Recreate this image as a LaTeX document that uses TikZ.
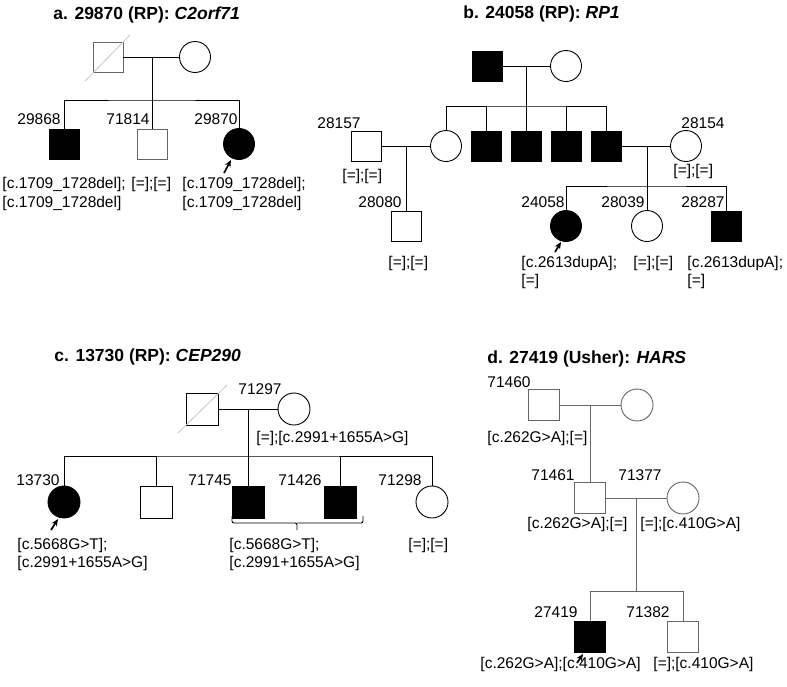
\documentclass[tikz,border=0pt]{standalone}
\usepackage{fontspec}
\setmainfont{Liberation Sans}
\usetikzlibrary{arrows.meta,calc}
\begin{document}
\begin{tikzpicture}[x=1pt,y=-1pt,
  every path/.style={line width=0.9pt},
  sq/.style={draw,rectangle,inner sep=0pt,minimum size=#1},
  sq/.default=30pt,
  ci/.style={draw,circle,inner sep=0pt,minimum size=#1},
  ci/.default=31pt,
  aff/.style={fill=black},
  lbl/.style={font=\fontsize{15.5}{18}\selectfont,inner sep=0pt,anchor=base east},
  lblw/.style={font=\fontsize{15.5}{18}\selectfont,inner sep=0pt,anchor=base west},
  gt/.style={font=\fontsize{15.5}{18}\selectfont,inner sep=0pt,anchor=base west},
  ttl/.style={font=\fontsize{17.5}{20}\selectfont\bfseries,inner sep=0pt,anchor=base west},
  prob/.style={line width=1.7pt,-{Stealth[length=7pt,width=6pt]}},
  slash/.style={draw=gray!45,line width=0.8pt},
  grayl/.style={draw=gray!80!black}
]
\useasboundingbox (0,0) rectangle (787,686);

% ---------------- Panel a ----------------
\node[ttl] (a_t) at (53,19) {a. 29870 (RP): \textit{C2orf71}};
\node[sq,grayl] (a_f) at (108,57) {};
\draw[slash] ($(a_f.center)+(-23,24)$) -- ($(a_f.center)+(22,-22)$);
\node[ci] (a_m) at (195,57) {};
\coordinate (a_j) at (152,57);
\coordinate (a_s) at (152,100);
\draw (a_f) -- (a_m);
\draw (a_j) -- (a_s);
\node[sq,aff] (a_c1) at (64,144) {};
\node[sq,grayl] (a_c2) at (152,144) {};
\node[ci,aff] (a_c3) at (239,144) {};
\draw (a_c1.north) |- (a_s) -| (a_c3.north);
\draw (a_s) -- (a_c2.north);
\node[lbl] (a_l1) at (61,124) {29868};
\node[lbl] (a_l2) at (150,124) {71814};
\node[lbl] (a_l3) at (238,124) {29870};
\node[gt] (a_g1) at (2,188) {[c.1709\_1728del];};
\node[gt] (a_g1b) at (2,207) {[c.1709\_1728del]};
\node[gt] (a_g2) at (131,188) {[=];[=]};
\node[gt] (a_g3) at (182,188) {[c.1709\_1728del];};
\node[gt] (a_g3b) at (182,207) {[c.1709\_1728del]};
\coordinate (a_ar) at (224,173);
\draw[prob] (a_ar) -- ($(a_c3.center)+(-8,16)$);

% ---------------- Panel b ----------------
\node[ttl] (b_t) at (463,18) {b. 24058 (RP): \textit{RP1}};
\node[sq,aff] (b_gf) at (487,66) {};
\node[ci] (b_gm) at (566,66) {};
\coordinate (b_j) at (526,66);
\coordinate (b_s) at (526,106);
\draw (b_gf) -- (b_gm);
\draw (b_j) -- (b_s);
\node[ci] (b_d) at (446,146) {};
\node[sq,aff] (b_s1) at (486,146) {};
\node[sq,aff] (b_s2) at (526,146) {};
\node[sq,aff] (b_s3) at (566,146) {};
\node[sq,aff] (b_s4) at (606,146) {};
\draw (b_d.north) |- (b_s) -| (b_s4.north);
\draw (b_s2.north) -- (b_s);
\draw (b_s1.north) -- (b_s1.north |- b_s);
\draw (b_s3.north) -- (b_s3.north |- b_s);
\node[sq] (b_h) at (366,146) {};
\draw (b_h) -- (b_d);
\coordinate (b_hj) at (406,146);
\node[sq] (b_g1) at (406,226) {};
\draw (b_hj) -- (b_g1.north);
\node[ci] (b_w) at (686,146) {};
\draw (b_s4) -- (b_w);
\coordinate (b_wj) at (647,146);
\coordinate (b_ws) at (647,186);
\draw (b_wj) -- (b_ws);
\node[ci,aff] (b_p) at (566,226) {};
\node[ci] (b_c2) at (647,226) {};
\node[sq,aff] (b_c3) at (726,226) {};
\draw (b_p.north) |- (b_ws) -| (b_c3.north);
\draw (b_ws) -- (b_c2.north);
\node[lbl] (b_l1) at (361,128) {28157};
\node[gt] (b_g1t) at (342,180) {[=];[=]};
\node[lbl] (b_l2) at (402,207) {28080};
\node[gt] (b_g2t) at (388,267) {[=];[=]};
\node[lblw] (b_l3) at (681,128) {28154};
\node[gt] (b_g3t) at (673,175) {[=];[=]};
\node[lbl] (b_l4) at (565,207) {24058};
\node[lbl] (b_l5) at (645,207) {28039};
\node[lbl] (b_l6) at (725,207) {28287};
\node[gt] (b_g4) at (521,267) {[c.2613dupA];};
\node[gt] (b_g4b) at (521,285) {[=]};
\node[gt] (b_g5) at (633,267) {[=];[=]};
\node[gt] (b_g6) at (687,267) {[c.2613dupA];};
\node[gt] (b_g6b) at (687,285) {[=]};
\coordinate (b_ar) at (555,252);
\draw[prob] (b_ar) -- ($(b_p.center)+(-5,16)$);

% ---------------- Panel c ----------------
\node[ttl] (c_t) at (54,361) {c. 13730 (RP): \textit{CEP290}};
\node[sq=32pt] (c_f) at (202,409) {};
\draw[slash] ($(c_f.center)+(-24,24)$) -- ($(c_f.center)+(25,-24)$);
\node[ci=32pt] (c_m) at (294,409) {};
\coordinate (c_j) at (248,409);
\coordinate (c_s) at (248,456);
\draw (c_f) -- (c_m);
\draw (c_j) -- (c_s);
\node[ci=32pt,aff] (c_p) at (64,502) {};
\node[sq=32pt] (c_2) at (156,502) {};
\node[sq=32pt,aff] (c_3) at (248,502) {};
\node[sq=32pt,aff] (c_4) at (340,502) {};
\node[ci=32pt] (c_5) at (432,502) {};
\draw (c_p.north) |- (c_s) -| (c_5.north);
\draw (c_s) -- (c_3.north);
\draw (c_2.north) -- (c_2.north |- c_s);
\draw (c_4.north) -- (c_4.north |- c_s);
\node[lblw] (c_l0) at (238,394) {71297};
\node[gt] (c_g0) at (256,442) {[=];[c.2991+1655A>G]};
\node[lbl] (c_l1) at (60,485) {13730};
\node[lbl] (c_l2) at (232,485) {71745};
\node[lbl] (c_l3) at (322,485) {71426};
\node[lbl] (c_l4) at (422,485) {71298};
\draw[rounded corners=2pt] (232,516) |- (297,523) -- (297,530);
\draw[rounded corners=2pt] (363,516) |- (297,523);
\node[gt] (c_g1) at (17,549) {[c.5668G>T];};
\node[gt] (c_g1b) at (17,567) {[c.2991+1655A>G]};
\node[gt] (c_g2) at (229,549) {[c.5668G>T];};
\node[gt] (c_g2b) at (229,567) {[c.2991+1655A>G]};
\node[gt] (c_g3) at (408,549) {[=];[=]};
\coordinate (c_ar) at (51,530);
\draw[prob] (c_ar) -- ($(c_p.center)+(-6,17)$);

% ---------------- Panel d ----------------
\node[ttl] (d_t) at (487,363) {d. 27419 (Usher): \textit{HARS}};
\node[sq=31pt,grayl] (d_gf) at (544,405) {};
\node[ci=32pt,grayl] (d_gm) at (637,405) {};
\coordinate (d_j) at (590,405);
\draw[grayl] (d_gf) -- (d_gm);
\node[sq=31pt,grayl] (d_f) at (590,498) {};
\draw[grayl] (d_j) -- (d_f.north);
\node[ci=32pt,grayl] (d_m) at (683,498) {};
\draw[grayl] (d_f) -- (d_m);
\coordinate (d_fj) at (636,498);
\coordinate (d_s) at (636,591);
\draw[grayl] (d_fj) -- (d_s);
\node[sq=31pt,aff] (d_p) at (590,637) {};
\node[sq=31pt,grayl] (d_c2) at (683,637) {};
\draw[grayl] (d_p.north) |- (d_s) -| (d_c2.north);
\node[lblw] (d_l0) at (487,387) {71460};
\node[gt] (d_g0) at (487,442) {[c.262G>A];[=]};
\node[lbl] (d_l1) at (575,480) {71461};
\node[lblw] (d_l2) at (618,480) {71377};
\node[gt] (d_g1) at (527,528) {[c.262G>A];[=]};
\node[gt] (d_g2) at (640,528) {[=];[c.410G>A]};
\node[lbl] (d_l3) at (578,617) {27419};
\node[lbl] (d_l4) at (670,617) {71382};
\node[gt] (d_g3) at (480,668) {[c.262G>A];[c.410G>A]};
\node[gt] (d_g4) at (653,668) {[=];[c.410G>A]};
\coordinate (d_ar) at (577,663);
\draw[prob] (d_ar) -- ($(d_p.south west)+(9,1)$);
\end{tikzpicture}
\end{document}
